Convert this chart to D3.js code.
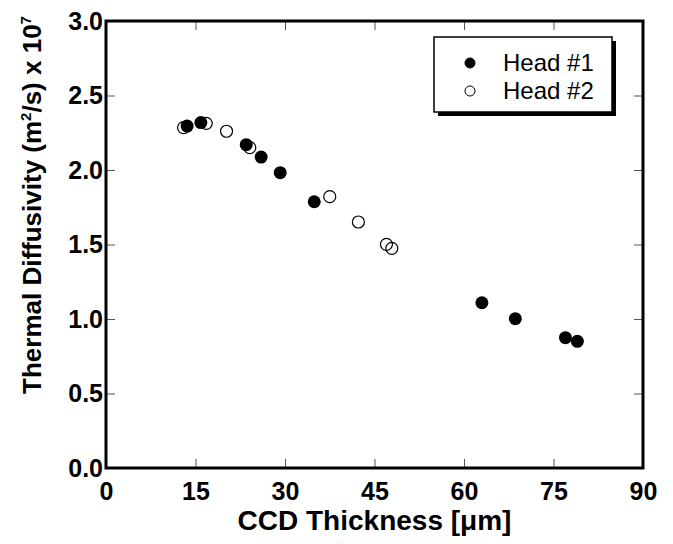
<!DOCTYPE html>
<html>
<head>
<meta charset="utf-8">
<script src="https://cdn.jsdelivr.net/npm/d3@7"></script>
<style>
  body { margin: 0; background: #fff; }
  text { font-family: "Liberation Sans", Arial, sans-serif; }
</style>
</head>
<body>
<svg id="chart" width="673" height="544"></svg>
<script>
// values
const head1X = [13.6, 15.9, 23.5, 26.0, 29.2, 34.9, 63.0, 68.6, 77.0, 79.0];
const head1Y = [2.295, 2.318, 2.17, 2.087, 1.982, 1.787, 1.109, 1.002, 0.875, 0.850];
const head2X = [13.0, 16.8, 20.2, 24.1, 37.5, 42.3, 47.0, 47.9];
const head2Y = [2.284, 2.313, 2.26, 2.15, 1.821, 1.651, 1.501, 1.474];
const xTicks = [0, 15, 30, 45, 60, 75, 90];
const yTicks = [0, 0.5, 1.0, 1.5, 2.0, 2.5, 3.0];
const seriesNames = ["Head #1", "Head #2"];

const margin = {top: 21, right: 30, bottom: 76, left: 106};
const width = 673, height = 544;
const innerW = width - margin.left - margin.right;
const innerH = height - margin.top - margin.bottom;

const svg = d3.select("#chart");
const g = svg.append("g").attr("transform", `translate(${margin.left},${margin.top})`);

const x = d3.scaleLinear().domain([0, 90]).range([0, innerW]);
const y = d3.scaleLinear().domain([0, 3]).range([innerH, 0]);

// axes, ticks pointing inward
const tickLen = 9;
function styleAxis(sel) {
    sel.select(".domain").remove();
    sel.selectAll(".tick line").attr("stroke", "#555").attr("stroke-width", 1);
    sel.selectAll(".tick text")
        .attr("fill", "#000")
        .style("font-size", "25px")
        .style("font-weight", "bold");
}

g.append("g")
    .attr("transform", `translate(0,${innerH})`)
    .call(d3.axisBottom(x).tickValues(xTicks).tickSize(-tickLen).tickPadding(14).tickFormat(d3.format("d")))
    .call(styleAxis);

g.append("g")
    .call(d3.axisLeft(y).tickValues(yTicks).tickSize(-tickLen).tickPadding(3).tickFormat(d3.format(".1f")))
    .call(styleAxis);

g.append("g")
    .call(d3.axisTop(x).tickValues(xTicks.slice(1, -1)).tickSize(-tickLen).tickFormat(""))
    .call(styleAxis);

g.append("g")
    .attr("transform", `translate(${innerW},0)`)
    .call(d3.axisRight(y).tickValues(yTicks.slice(1, -1)).tickSize(-tickLen).tickFormat(""))
    .call(styleAxis);

// frame
g.append("rect")
    .attr("width", innerW)
    .attr("height", innerH)
    .attr("fill", "none")
    .attr("stroke", "#000")
    .attr("stroke-width", 3);

// Head #2 open circles first, Head #1 filled on top
g.append("g")
    .selectAll("circle")
    .data(head2X.map((d, i) => [d, head2Y[i]]))
    .join("circle")
    .attr("cx", d => x(d[0]))
    .attr("cy", d => y(d[1]))
    .attr("r", 6)
    .attr("fill", "none")
    .attr("stroke", "#000")
    .attr("stroke-width", 1.2);

g.append("g")
    .selectAll("circle")
    .data(head1X.map((d, i) => [d, head1Y[i]]))
    .join("circle")
    .attr("cx", d => x(d[0]))
    .attr("cy", d => y(d[1]))
    .attr("r", 6.5)
    .attr("fill", "#000");

// legend
const legend = svg.append("g").attr("transform", "translate(434,37)");
legend.append("rect")
    .attr("x", 4).attr("y", 4)
    .attr("width", 178).attr("height", 75)
    .attr("fill", "#000");
legend.append("rect")
    .attr("width", 178).attr("height", 75)
    .attr("fill", "#fff")
    .attr("stroke", "#000")
    .attr("stroke-width", 1.5);

seriesNames.forEach((name, i) => {
    const ly = 26 + i * 28;
    legend.append("circle")
        .attr("cx", 36).attr("cy", ly)
        .attr("r", 5)
        .attr("fill", i === 0 ? "#000" : "none")
        .attr("stroke", "#000")
        .attr("stroke-width", 1);
    legend.append("text")
        .attr("x", 69).attr("y", ly + 8)
        .style("font-size", "24px")
        .text(name);
});

// axis titles
svg.append("text")
    .attr("x", margin.left + innerW / 2)
    .attr("y", 530)
    .attr("text-anchor", "middle")
    .style("font-size", "28px")
    .style("font-weight", "bold")
    .text("CCD Thickness [μm]");

const yTitle = svg.append("text")
    .attr("transform", "translate(41,205) rotate(-90)")
    .attr("text-anchor", "middle")
    .style("font-size", "26px")
    .style("font-weight", "bold");
yTitle.append("tspan").text("Thermal Diffusivity (m");
yTitle.append("tspan").attr("dy", -10).style("font-size", "15px").text("2");
yTitle.append("tspan").attr("dy", 10).text("/s) x 10");
yTitle.append("tspan").attr("dy", -10).style("font-size", "15px").text("7");
</script>
</body>
</html>
